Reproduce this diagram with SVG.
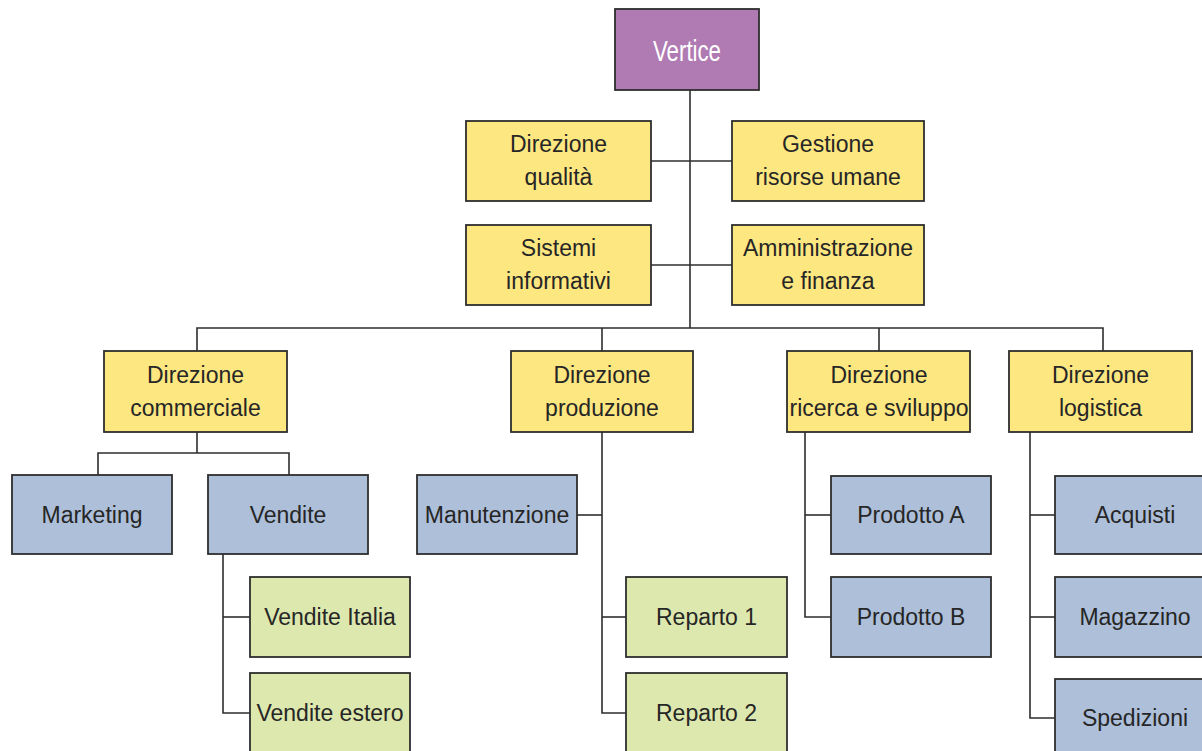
<svg xmlns="http://www.w3.org/2000/svg" width="1202" height="751" viewBox="0 0 1202 751">
  <style>
    .box { stroke: #2e2e2e; stroke-width: 1.8; }
    .top { fill: #b07ab3; }
    .staff { fill: #fde781; }
    .unit { fill: #adbfd9; }
    .sub { fill: #dde8ae; }
    .lbl { font-family: "Liberation Sans", Arial, sans-serif; font-size: 23px; fill: #262626; text-anchor: middle; }
    .lbl-top { font-family: "Liberation Sans", Arial, sans-serif; font-size: 29px; fill: #ffffff; text-anchor: middle; }
    .wire { fill: none; stroke: #2e2e2e; stroke-width: 1.6; }
  </style>
  <rect width="1202" height="751" fill="#ffffff"/>

  <!-- connectors -->
  <g id="connectors" class="wire">
    <path d="M690 90 V328"/>
    <path d="M651 161 H732"/>
    <path d="M651 265 H732"/>
    <path d="M197 351 V328 H1103 V351"/>
    <path d="M602 328 V351"/>
    <path d="M879 328 V351"/>
    <!-- commerciale -->
    <path d="M197 432 V453"/>
    <path d="M98 475 V453 H289 V475"/>
    <path d="M223 554 V713 H250"/>
    <path d="M223 617 H250"/>
    <!-- produzione -->
    <path d="M602 432 V713 H626"/>
    <path d="M577 515 H602"/>
    <path d="M602 617 H626"/>
    <!-- ricerca e sviluppo -->
    <path d="M805 432 V617 H831"/>
    <path d="M805 515 H831"/>
    <!-- logistica -->
    <path d="M1030 432 V718 H1055"/>
    <path d="M1030 515 H1055"/>
    <path d="M1030 617 H1055"/>
  </g>

  <g id="vertice">
    <rect class="box top" x="615" y="9" width="144" height="81"/>
    <text class="lbl-top" x="687" y="61" textLength="68" lengthAdjust="spacingAndGlyphs">Vertice</text>
  </g>

  <g id="direzione-qualita">
    <rect class="box staff" x="466" y="121" width="185" height="80"/>
    <text class="lbl" x="558.5" y="152">Direzione</text>
    <text class="lbl" x="558.5" y="185">qualità</text>
  </g>
  <g id="gestione-risorse-umane">
    <rect class="box staff" x="732" y="121" width="192" height="80"/>
    <text class="lbl" x="828" y="152">Gestione</text>
    <text class="lbl" x="828" y="185">risorse umane</text>
  </g>
  <g id="sistemi-informativi">
    <rect class="box staff" x="466" y="225" width="185" height="80"/>
    <text class="lbl" x="558.5" y="256">Sistemi</text>
    <text class="lbl" x="558.5" y="289">informativi</text>
  </g>
  <g id="amministrazione-finanza">
    <rect class="box staff" x="732" y="225" width="192" height="80"/>
    <text class="lbl" x="828" y="256">Amministrazione</text>
    <text class="lbl" x="828" y="289">e finanza</text>
  </g>

  <g id="direzione-commerciale">
    <rect class="box staff" x="104" y="351" width="183" height="81"/>
    <text class="lbl" x="195.5" y="383">Direzione</text>
    <text class="lbl" x="195.5" y="416">commerciale</text>
  </g>
  <g id="direzione-produzione">
    <rect class="box staff" x="511" y="351" width="182" height="81"/>
    <text class="lbl" x="602" y="383">Direzione</text>
    <text class="lbl" x="602" y="416">produzione</text>
  </g>
  <g id="direzione-ricerca-sviluppo">
    <rect class="box staff" x="787" y="351" width="183" height="81"/>
    <text class="lbl" x="879" y="383">Direzione</text>
    <text class="lbl" x="879" y="416">ricerca e sviluppo</text>
  </g>
  <g id="direzione-logistica">
    <rect class="box staff" x="1009" y="351" width="183" height="81"/>
    <text class="lbl" x="1100.5" y="383">Direzione</text>
    <text class="lbl" x="1100.5" y="416">logistica</text>
  </g>

  <g id="marketing">
    <rect class="box unit" x="12" y="475" width="160" height="79"/>
    <text class="lbl" x="92" y="523">Marketing</text>
  </g>
  <g id="vendite">
    <rect class="box unit" x="208" y="475" width="160" height="79"/>
    <text class="lbl" x="288" y="523">Vendite</text>
  </g>
  <g id="manutenzione">
    <rect class="box unit" x="417" y="475" width="160" height="79"/>
    <text class="lbl" x="497" y="523">Manutenzione</text>
  </g>
  <g id="prodotto-a">
    <rect class="box unit" x="831" y="476" width="160" height="78"/>
    <text class="lbl" x="911" y="523">Prodotto A</text>
  </g>
  <g id="acquisti">
    <rect class="box unit" x="1055" y="476" width="160" height="78"/>
    <text class="lbl" x="1135" y="523">Acquisti</text>
  </g>

  <g id="vendite-italia">
    <rect class="box sub" x="250" y="577" width="160" height="80"/>
    <text class="lbl" x="330" y="625">Vendite Italia</text>
  </g>
  <g id="vendite-estero">
    <rect class="box sub" x="250" y="673" width="160" height="90"/>
    <text class="lbl" x="330" y="721">Vendite estero</text>
  </g>
  <g id="reparto-1">
    <rect class="box sub" x="626" y="577" width="161" height="80"/>
    <text class="lbl" x="706.5" y="625">Reparto 1</text>
  </g>
  <g id="reparto-2">
    <rect class="box sub" x="626" y="673" width="161" height="90"/>
    <text class="lbl" x="706.5" y="721">Reparto 2</text>
  </g>
  <g id="prodotto-b">
    <rect class="box unit" x="831" y="577" width="160" height="80"/>
    <text class="lbl" x="911" y="625">Prodotto B</text>
  </g>
  <g id="magazzino">
    <rect class="box unit" x="1055" y="577" width="160" height="80"/>
    <text class="lbl" x="1135" y="625">Magazzino</text>
  </g>
  <g id="spedizioni">
    <rect class="box unit" x="1055" y="679" width="160" height="84"/>
    <text class="lbl" x="1135" y="726">Spedizioni</text>
  </g>
</svg>
